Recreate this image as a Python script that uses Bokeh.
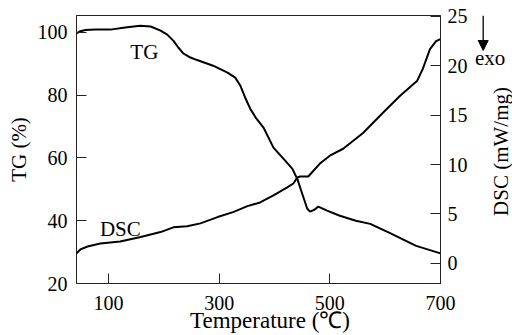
import math
from bokeh.plotting import figure
from bokeh.layouts import row
from bokeh.models import LinearAxis, Range1d, FixedTicker, Label, Arrow, NormalHead
from bokeh.embed import file_html
from bokeh.resources import INLINE

# ---- data ----
temp_tg = [42, 49, 58, 76, 103, 130, 157, 176, 194, 206, 217, 226, 235, 248, 260,
           289, 315, 329, 338, 347, 356, 367, 380, 398, 416, 432, 441, 450, 459,
           464, 472, 479, 495, 518, 547, 573, 607, 656, 700]
tg = [99.7, 100.4, 100.8, 100.9, 100.9, 101.6, 102.1, 101.9, 100.6, 99.3, 97.4,
      95.2, 93.3, 92.0, 91.2, 89.4, 87.2, 85.6, 83.1, 79.2, 75.7, 72.6, 69.7,
      63.3, 59.8, 56.6, 53.4, 48.6, 43.9, 42.9, 43.5, 44.5, 43.2, 41.6, 40.0,
      39.0, 36.2, 32.0, 29.6]

temp_dsc = [42, 49, 62, 85, 121, 158, 194, 217, 242, 266, 297, 325, 351, 374, 398,
            423, 434, 441, 446, 461, 482, 500, 524, 560, 596, 627, 658, 668, 681,
            692, 700]
dsc = [1.0, 1.4, 1.7, 2.0, 2.2, 2.66, 3.16, 3.64, 3.74, 4.04, 4.68, 5.18, 5.79,
       6.16, 6.87, 7.68, 8.08, 8.69, 8.79, 8.79, 10.1, 10.9, 11.6, 13.2, 15.25,
       16.97, 18.5, 19.7, 21.7, 22.5, 22.7]

x_ticks = [100, 300, 500, 700]
tg_ticks = [20, 40, 60, 80, 100]
dsc_ticks = [0, 5, 10, 15, 20, 25]

FONT = "Liberation Serif"
AX = "#222222"

# ---- main chart ----
p = figure(width=470, height=335, x_range=Range1d(42, 700), y_range=Range1d(20, 105.4),
           output_backend="svg", toolbar_location=None,
           min_border_left=76, min_border_right=29, min_border_top=15, min_border_bottom=52)
p.title.visible = False
p.extra_y_ranges = {"dsc": Range1d(-2.05, 25.1)}
p.add_layout(LinearAxis(y_range_name="dsc"), "right")

p.xgrid.visible = False
p.ygrid.visible = False
p.outline_line_color = AX
p.outline_line_width = 1
p.background_fill_color = "white"
p.border_fill_color = "white"

p.xaxis.ticker = FixedTicker(ticks=x_ticks)
p.yaxis[0].ticker = FixedTicker(ticks=tg_ticks)
p.yaxis[1].ticker = FixedTicker(ticks=dsc_ticks)

for ax in p.axis:
    ax.axis_line_color = AX
    ax.major_tick_line_color = AX
    ax.major_tick_in = 10
    ax.major_tick_out = 0
    ax.minor_tick_line_color = None
    ax.major_label_text_font = FONT
    ax.major_label_text_font_size = "20px"
    ax.major_label_text_color = "black"
    ax.axis_label_text_font = FONT
    ax.axis_label_text_font_style = "normal"
    ax.axis_label_text_color = "black"

p.xaxis.major_label_standoff = 12
p.yaxis[0].major_label_standoff = 9
p.yaxis[1].major_label_standoff = 7

# leading no-break spaces shift the title right of the frame centre, as in the reference
p.xaxis.axis_label = "\u00a0\u00a0\u00a0\u00a0Temperature (℃)"
p.xaxis.axis_label_text_font_size = "23px"
p.xaxis.axis_label_standoff = -5
p.yaxis[0].axis_label = "TG (%)"
p.yaxis[0].axis_label_text_font_size = "21px"
p.yaxis[0].axis_label_standoff = 4

p.line(temp_tg, tg, line_width=2, color="black")
p.line(temp_dsc, dsc, line_width=2, color="black", y_range_name="dsc")

def lab(fig, x, y, text, size="21px", align="left", angle=0.0):
    fig.add_layout(Label(x=x, y=y, text=text, text_font=FONT, text_font_size=size,
                         text_baseline="middle", text_align=align, angle=angle,
                         text_color="black"))

lab(p, 139.3, 93.9, "TG")
lab(p, 84.4, 37.5, "DSC")

# ---- right-hand strip: DSC axis title and the exo marker ----
# its frame is aligned with the main frame (screen rows 15..283); y = 335 - screen row
q = figure(width=42, height=335, x_range=Range1d(470, 512), y_range=Range1d(52, 320),
           output_backend="svg", toolbar_location=None, x_axis_type=None, y_axis_type=None,
           min_border_left=0, min_border_right=0, min_border_top=15, min_border_bottom=52)
q.title.visible = False
q.xgrid.visible = False
q.ygrid.visible = False
q.outline_line_color = None
q.background_fill_color = "white"
q.border_fill_color = "white"

lab(q, 474.5, 335 - 57, "exo")
lab(q, 500, 335 - 151, "DSC (mW/mg)", align="center", angle=math.pi / 2)
q.add_layout(Arrow(end=NormalHead(size=10, fill_color="black", line_color="black"),
                   x_start=482.7, y_start=335 - 15, x_end=482.7, y_end=335 - 50,
                   line_width=1.3, line_color="black"))

layout = row(p, q)
open("out.html", "w").write(file_html(layout, INLINE))
